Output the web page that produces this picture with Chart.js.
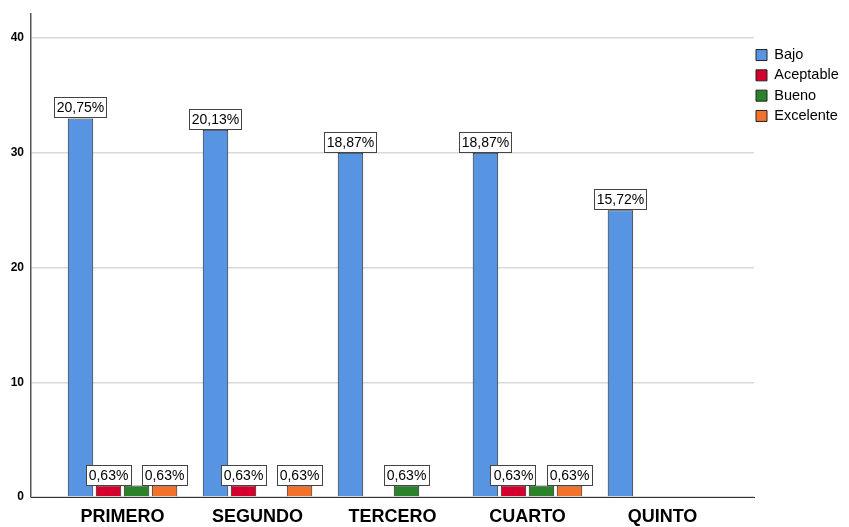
<!DOCTYPE html>
<html>
<head>
<meta charset="utf-8">
<title>Nivel por grado</title>
<script src="https://cdn.jsdelivr.net/npm/chart.js@4"></script>
<style>
  html, body { margin: 0; padding: 0; background: #fff; }
  #wrap { width: 849px; height: 527px; position: relative; }
</style>
</head>
<body>
<div id="wrap"><canvas id="grafico"></canvas></div>
<script>
// Datos del gráfico
const categorias = ['PRIMERO', 'SEGUNDO', 'TERCERO', 'CUARTO', 'QUINTO'];
const bajo       = [33, 32, 30, 30, 25];
const aceptable  = [1, 1, 0, 1, 0];
const bueno      = [1, 0, 1, 1, 0];
const excelente  = [1, 1, 0, 1, 0];
const yTicks     = [0, 10, 20, 30, 40];

const total = [bajo, aceptable, bueno, excelente].flat().reduce((a, b) => a + b, 0);
const FONT = "'Liberation Sans', Arial, sans-serif";

// Convierte un array de valores en puntos {x, y}; los ceros no se dibujan
function puntos(arr) {
    return arr.map((v, i) => ({ x: i + 1, y: v === 0 ? null : v }));
}

// Etiquetas con recuadro sobre cada barra (se omiten si se solapan)
const etiquetasBarras = {
    id: 'etiquetasBarras',
    afterDatasetsDraw(chart) {
        const ctx = chart.ctx;
        const cajas = [];
        ctx.save();
        ctx.font = '14px ' + FONT;
        ctx.textAlign = 'center';
        ctx.textBaseline = 'middle';
        // recorrer por categoría, en orden de serie
        for (let i = 0; i < categorias.length; i++) {
            chart.data.datasets.forEach((ds, d) => {
                const meta = chart.getDatasetMeta(d);
                const v = ds.data[i].y;
                if (v === null || meta.hidden) return;
                const bar = meta.data[i];
                const txt = (v / total * 100).toFixed(2).replace('.', ',') + '%';
                const w = Math.round(ctx.measureText(txt).width) + 6;
                const h = 21;
                const x0 = Math.round(bar.x - w / 2);
                const y0 = Math.round(bar.y - h);
                const choca = cajas.some(c => x0 < c.x + c.w && x0 + w > c.x && y0 < c.y + c.h && y0 + h > c.y);
                if (choca) return;
                cajas.push({ x: x0, y: y0, w: w, h: h });
                ctx.fillStyle = '#fff';
                ctx.fillRect(x0, y0, w, h);
                ctx.strokeStyle = '#444';
                ctx.lineWidth = 1;
                ctx.strokeRect(x0 + 0.5, y0 + 0.5, w - 1, h - 1);
                ctx.fillStyle = '#000';
                ctx.fillText(txt, bar.x, y0 + h / 2 + 1);
            });
        }
        ctx.restore();
    }
};

// Ajuste del ancho y posición de la leyenda
const ajusteLeyenda = {
    id: 'ajusteLeyenda',
    beforeInit(chart) {
        const fit = chart.legend.fit;
        chart.legend.fit = function() {
            fit.call(this);
            this.width = 95;
        };
    },
    afterLayout(chart) {
        const lg = chart.legend;
        lg.left = 756 - lg.options.labels.padding;
        lg.top = 42;
    }
};

new Chart(document.getElementById('grafico'), {
    type: 'bar',
    data: {
        datasets: [
            { label: 'Bajo',       data: puntos(bajo),      backgroundColor: '#5795e3' },
            { label: 'Aceptable',  data: puntos(aceptable), backgroundColor: '#d5002e' },
            { label: 'Bueno',      data: puntos(bueno),     backgroundColor: '#2a832a' },
            { label: 'Excelente',  data: puntos(excelente), backgroundColor: '#f2722c' }
        ]
    },
    options: {
        responsive: true,
        maintainAspectRatio: false,
        animation: false,
        layout: { padding: { top: 12, left: 0, right: 0, bottom: 0 } },
        datasets: {
            bar: {
                borderColor: '#222',
                borderWidth: 1,
                categoryPercentage: 0.83,
                barPercentage: 0.91
            }
        },
        scales: {
            x: {
                type: 'linear',
                offset: false,
                min: 0.322,
                max: 5.678,
                grid: { display: false, drawTicks: false, offset: false },
                border: { color: '#333', width: 1 },
                ticks: {
                    stepSize: 1,
                    padding: 9,
                    color: '#000',
                    font: { family: FONT, size: 18, weight: 'bold' },
                    callback: v => categorias[v - 1] || ''
                },
                afterBuildTicks: s => {
                    s.ticks = s.ticks.filter(t => Number.isInteger(t.value) && t.value >= 1 && t.value <= categorias.length);
                },
                afterFit: s => { s.height = 30; }
            },
            y: {
                min: 0,
                max: 42.08,
                grid: { color: '#d9d9d9', lineWidth: 1.5, drawTicks: false },
                border: { color: '#555', width: 1.5 },
                ticks: {
                    padding: 7,
                    color: '#000',
                    font: { family: FONT, size: 12, weight: 'bold' }
                },
                afterBuildTicks: s => { s.ticks = yTicks.map(v => ({ value: v })); },
                afterFit: s => { s.width = 31; }
            }
        },
        plugins: {
            legend: {
                position: 'right',
                align: 'start',
                labels: {
                    boxWidth: 11,
                    boxHeight: 11,
                    padding: 5.8,
                    color: '#000',
                    font: { family: FONT, size: 14.5 }
                }
            },
            tooltip: { enabled: false }
        }
    },
    plugins: [etiquetasBarras, ajusteLeyenda]
});
</script>
</body>
</html>
